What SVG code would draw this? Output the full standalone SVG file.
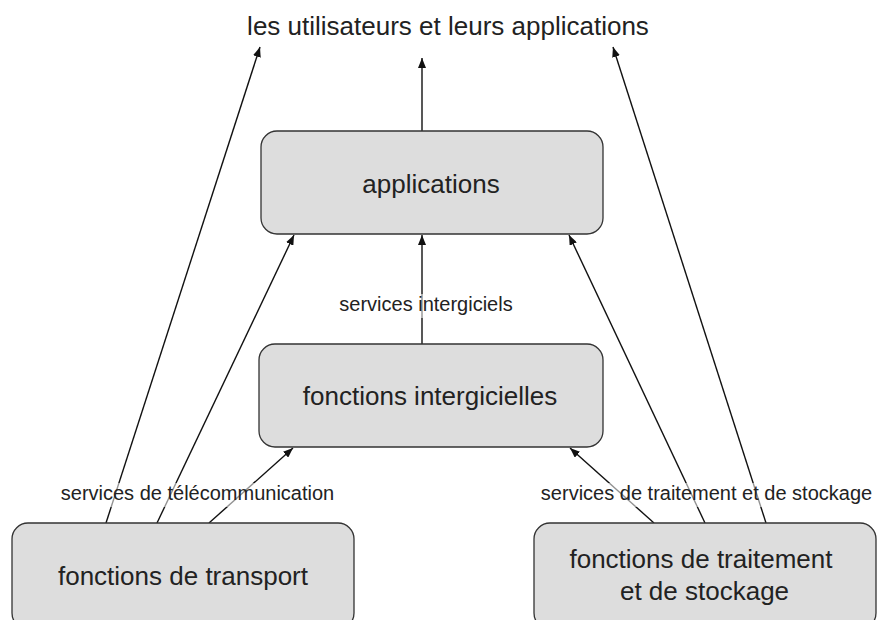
<svg xmlns="http://www.w3.org/2000/svg" width="877" height="620" viewBox="0 0 877 620">
  <style>
    .box { fill: #dddddd; stroke: #333333; stroke-width: 1.3; }
    .big { font-family: "Liberation Sans", Arial, Helvetica, sans-serif; font-size: 26px; fill: #222222; text-anchor: middle; }
    .small { font-family: "Liberation Sans", Arial, Helvetica, sans-serif; font-size: 20px; fill: #222222; text-anchor: middle; }
    .edge { stroke: #111111; stroke-width: 1.4; fill: none; marker-end: url(#arrow); }
    .veil { fill: #ffffff; fill-opacity: 0.55; }
  </style>
  <defs>
    <marker id="arrow" viewBox="0 0 10 8" refX="10" refY="4" markerWidth="10" markerHeight="8" markerUnits="userSpaceOnUse" orient="auto">
      <path d="M0,0 L10,4 L0,8 z" fill="#111111"/>
    </marker>
  </defs>
  <rect width="877" height="620" fill="#ffffff"/>

  <text id="users" class="big" x="448" y="35">les utilisateurs et leurs applications</text>

  <g id="connectors">
    <line class="edge" x1="106" y1="523" x2="260" y2="47"/>
    <line class="edge" x1="157" y1="523" x2="294" y2="235"/>
    <line class="edge" x1="209" y1="523" x2="293" y2="448"/>
    <line class="edge" x1="422" y1="344" x2="422" y2="235"/>
    <line class="edge" x1="422" y1="131" x2="422" y2="58"/>
    <line class="edge" x1="654" y1="523" x2="570" y2="448"/>
    <line class="edge" x1="705" y1="523" x2="569" y2="235"/>
    <line class="edge" x1="766" y1="523" x2="613" y2="47"/>
  </g>

  <g id="edge-labels">
    <rect class="veil" x="57" y="483" width="282" height="24"/>
    <text class="small" x="197.5" y="500">services de télécommunication</text>
    <rect class="veil" x="535" y="483" width="342" height="24"/>
    <text class="small" x="706.5" y="500">services de traitement et de stockage</text>
    <rect class="veil" x="337" y="294" width="178" height="24"/>
    <text class="small" x="426" y="311">services intergiciels</text>
  </g>

  <g id="applications">
    <rect class="box" x="261" y="131" width="342" height="103" rx="16" ry="16"/>
    <text class="big" x="431" y="193">applications</text>
  </g>

  <g id="intergicielles">
    <rect class="box" x="259" y="344" width="344" height="103" rx="16" ry="16"/>
    <text class="big" x="430" y="405">fonctions intergicielles</text>
  </g>

  <g id="transport">
    <rect class="box" x="12" y="523" width="342" height="106" rx="16" ry="16"/>
    <text class="big" x="183" y="585">fonctions de transport</text>
  </g>

  <g id="traitement">
    <rect class="box" x="534" y="523" width="342" height="106" rx="16" ry="16"/>
    <text class="big" x="701" y="568">fonctions de traitement</text>
    <text class="big" x="704.5" y="600">et de stockage</text>
  </g>
</svg>
